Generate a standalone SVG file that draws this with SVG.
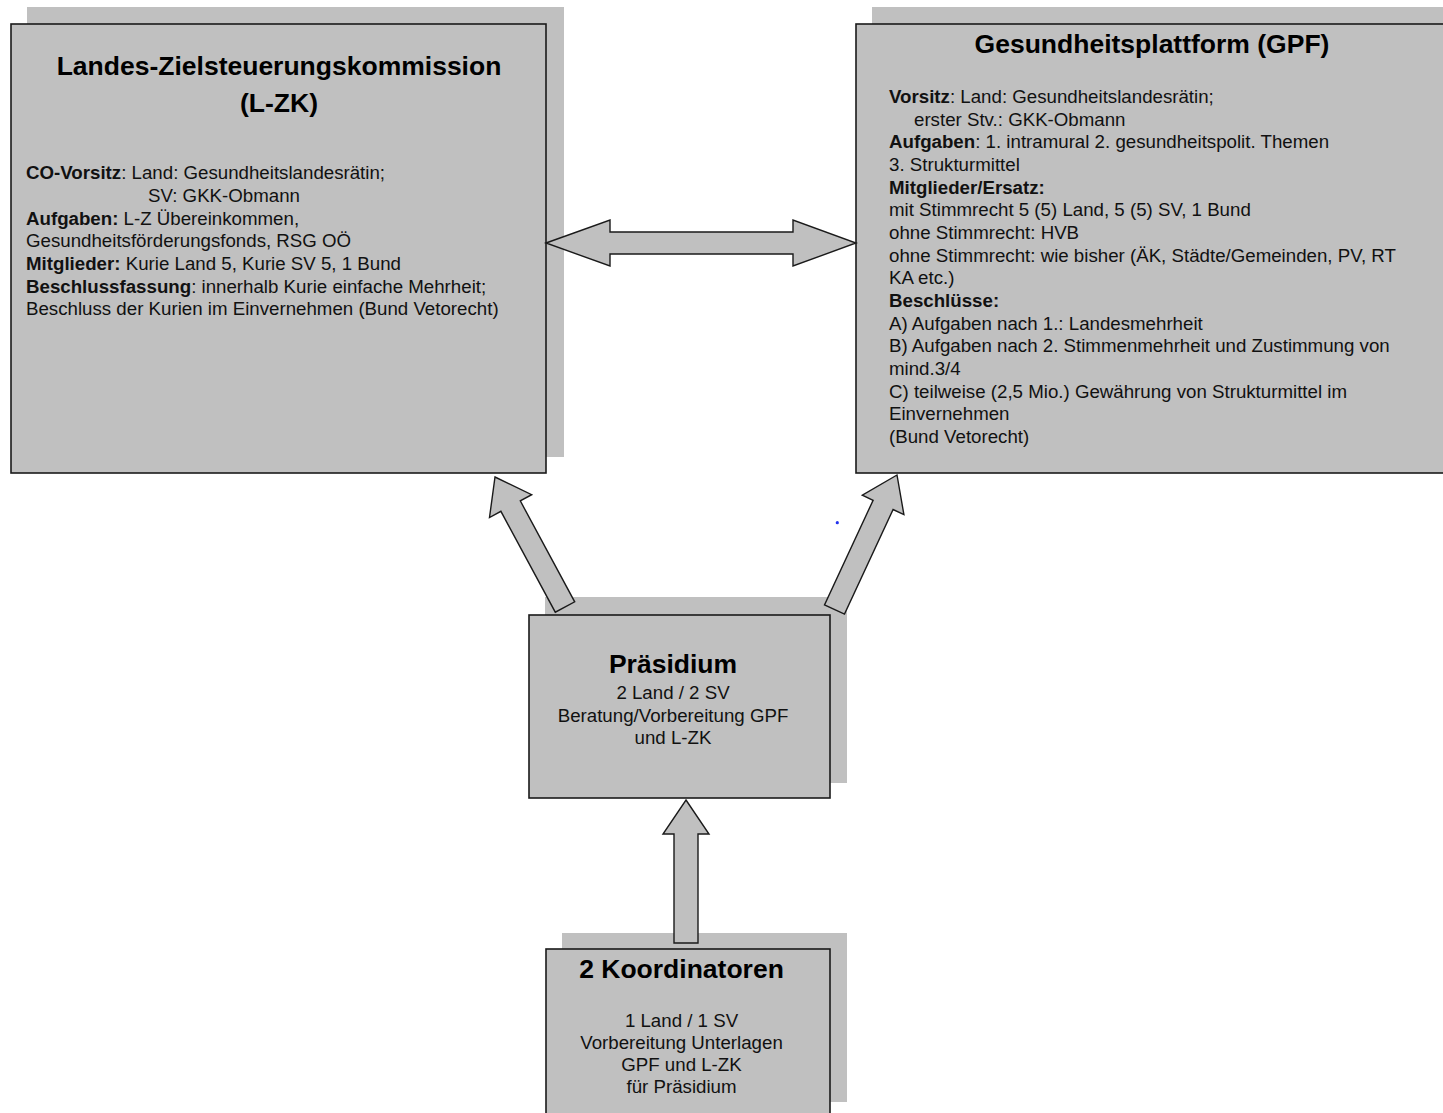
<svg xmlns="http://www.w3.org/2000/svg" width="1443" height="1113" viewBox="0 0 1443 1113">
<style>
.shadow{fill:#c0c0c0;stroke:none}
.box{fill:#c0c0c0;stroke:#1a1a1a;stroke-width:1.6}
.arrow{fill:#c0c0c0;stroke:#1a1a1a;stroke-width:1.4;stroke-linejoin:miter}
text{font-family:"Liberation Sans",Arial,sans-serif;fill:#111}
.title{font-size:26.5px;font-weight:bold;fill:#000}
.body{font-size:18.7px}
.b{font-weight:bold}
.c{text-anchor:middle}
</style>
<rect width="1443" height="1113" fill="#fff"/>

<g id="node-lzk">
<rect class="shadow" x="27" y="7" width="537" height="450"/>
<rect class="box" x="11" y="24" width="535" height="449"/>
<text class="title c" x="279" y="75">Landes-Zielsteuerungskommission</text>
<text class="title c" x="279" y="112">(L-ZK)</text>
<text class="body" x="26" y="179"><tspan class="b">CO-Vorsitz</tspan>: Land: Gesundheitslandesrätin;</text>
<text class="body" x="148" y="202">SV: GKK-Obmann</text>
<text class="body" x="26" y="225"><tspan class="b">Aufgaben:</tspan> L-Z Übereinkommen,</text>
<text class="body" x="26" y="247">Gesundheitsförderungsfonds, RSG OÖ</text>
<text class="body" x="26" y="270"><tspan class="b">Mitglieder:</tspan> Kurie Land 5, Kurie SV 5, 1 Bund</text>
<text class="body" x="26" y="293"><tspan class="b">Beschlussfassung</tspan>: innerhalb Kurie einfache Mehrheit;</text>
<text class="body" x="26" y="315">Beschluss der Kurien im Einvernehmen (Bund Vetorecht)</text>
</g>

<g id="node-gpf">
<rect class="shadow" x="872" y="7" width="600" height="450"/>
<rect class="box" x="856" y="24" width="600" height="449"/>
<text class="title c" x="1152" y="53">Gesundheitsplattform (GPF)</text>
<text class="body" x="889" y="103"><tspan class="b">Vorsitz</tspan>: Land: Gesundheitslandesrätin;</text>
<text class="body" x="914" y="126">erster Stv.: GKK-Obmann</text>
<text class="body" x="889" y="148"><tspan class="b">Aufgaben</tspan>: 1. intramural 2. gesundheitspolit. Themen</text>
<text class="body" x="889" y="171">3. Strukturmittel</text>
<text class="body b" x="889" y="194">Mitglieder/Ersatz:</text>
<text class="body" x="889" y="216">mit Stimmrecht 5 (5) Land, 5 (5) SV, 1 Bund</text>
<text class="body" x="889" y="239">ohne Stimmrecht: HVB</text>
<text class="body" x="889" y="262">ohne Stimmrecht: wie bisher (ÄK, Städte/Gemeinden, PV, RT</text>
<text class="body" x="889" y="284">KA etc.)</text>
<text class="body b" x="889" y="307">Beschlüsse:</text>
<text class="body" x="889" y="330">A) Aufgaben nach 1.: Landesmehrheit</text>
<text class="body" x="889" y="352">B) Aufgaben nach 2. Stimmenmehrheit und Zustimmung von</text>
<text class="body" x="889" y="375">mind.3/4</text>
<text class="body" x="889" y="398">C) teilweise (2,5 Mio.) Gewährung von Strukturmittel im</text>
<text class="body" x="889" y="420">Einvernehmen</text>
<text class="body" x="889" y="443">(Bund Vetorecht)</text>
</g>

<g id="node-praesidium">
<rect class="shadow" x="545" y="597" width="302" height="186"/>
<rect class="box" x="529" y="615" width="301" height="183"/>
<text class="title c" x="673" y="673">Präsidium</text>
<text class="body c" x="673" y="699">2 Land / 2 SV</text>
<text class="body c" x="673" y="722">Beratung/Vorbereitung GPF</text>
<text class="body c" x="673" y="744">und L-ZK</text>
</g>

<g id="node-koordinatoren">
<rect class="shadow" x="562" y="933" width="285" height="169"/>
<rect class="box" x="546" y="949" width="284" height="180"/>
<text class="title c" x="681.5" y="978">2 Koordinatoren</text>
<text class="body c" x="681.5" y="1027">1 Land / 1 SV</text>
<text class="body c" x="681.5" y="1049">Vorbereitung Unterlagen</text>
<text class="body c" x="681.5" y="1071">GPF und L-ZK</text>
<text class="body c" x="681.5" y="1093">für Präsidium</text>
</g>

<g id="connectors">
<polygon id="arrow-lzk-gpf" class="arrow" points="546,243 610,220 610,232 793,232 793,220 856,243 793,266 793,254 610,254 610,266"/>
<polygon id="arrow-praes-lzk" class="arrow" points="495,477 531.7,494.7 520.3,500.9 574.7,601.8 555.3,612.2 500.9,511.3 489.5,517.5"/>
<polygon id="arrow-praes-gpf" class="arrow" points="897,475 903.9,514.6 893.1,509.5 844.5,614.1 824.5,604.9 873.1,500.3 862.3,495.2"/>
<polygon id="arrow-koord-praes" class="arrow" points="686,800 709,834 698,834 698,943 674,943 674,834 663,834"/>
</g>
<circle cx="837.3" cy="522.7" r="1.6" fill="#2233ee"/>
</svg>
